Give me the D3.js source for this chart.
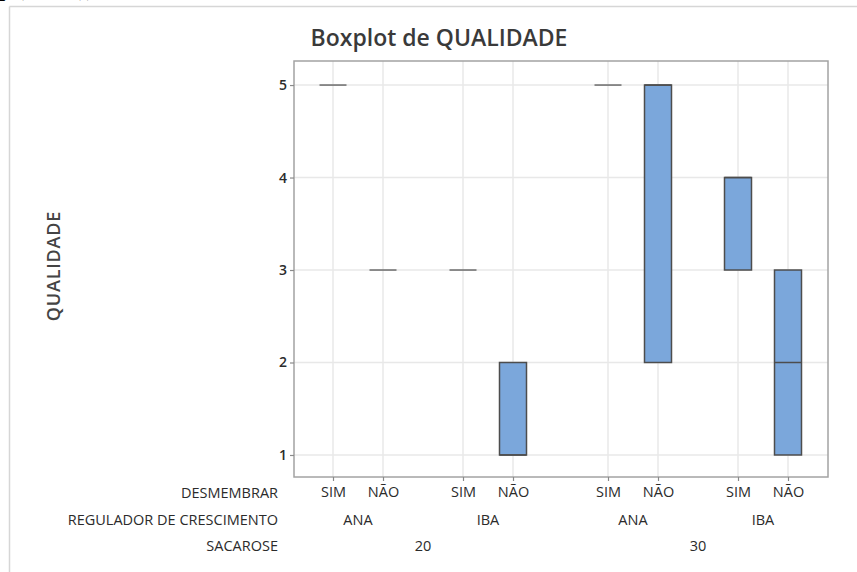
<!DOCTYPE html>
<html>
<head>
<meta charset="utf-8">
<script src="https://cdn.jsdelivr.net/npm/d3@7"></script>
<style>
  body { margin: 0; background: #fff; }
  svg { display: block; }
</style>
</head>
<body>
<svg id="chart" width="857" height="572"></svg>
<script>
// Groups, innermost factor first
const desmembrar = ["SIM", "NÃO", "SIM", "NÃO", "SIM", "NÃO", "SIM", "NÃO"];
const regulador  = ["ANA", "ANA", "IBA", "IBA", "ANA", "ANA", "IBA", "IBA"];
const sacarose   = ["20", "20", "20", "20", "30", "30", "30", "30"];

// Box summaries of QUALIDADE per group
const q1      = [5, 3, 3, 1, 5, 2, 3, 1];
const mediana = [5, 3, 3, 1, 5, 5, 4, 2];
const q3      = [5, 3, 3, 2, 5, 5, 4, 3];

const yTicks = [1, 2, 3, 4, 5];

const titulo = "Boxplot de QUALIDADE";
const yTitulo = "QUALIDADE";
const rotulosLinhas = ["DESMEMBRAR", "REGULADOR DE CRESCIMENTO", "SACAROSE"];

const FONT = "'Open Sans', 'Noto Sans', sans-serif";
const LBL = 14.5;
const svg = d3.select("#chart");

// Outer frame of the graph window
svg.append("line").attr("x1", 9.5).attr("x2", 857).attr("y1", 6.5).attr("y2", 6.5)
  .attr("stroke", "#d6d6d6").attr("stroke-width", 1.5);
svg.append("line").attr("x1", 9.5).attr("x2", 9.5).attr("y1", 6.5).attr("y2", 572)
  .attr("stroke", "#d6d6d6").attr("stroke-width", 1.5);

// Line of text running off the top edge
svg.append("text").attr("x", -1).attr("y", -4)
  .attr("font-family", "'Liberation Serif', serif").attr("font-weight", "bold")
  .attr("font-size", 22).attr("fill", "#000").text("p  (dados));");

const plot = { left: 294, right: 828, top: 61, bottom: 477 };

// Slot positions: gaps open between regulator groups and wider between sucrose levels
const slots = [];
let s = 0;
for (let i = 0; i < desmembrar.length; i++) {
  if (i > 0) {
    s += 1;
    if (regulador[i] !== regulador[i - 1] || sacarose[i] !== sacarose[i - 1]) s += 0.6;
    if (sacarose[i] !== sacarose[i - 1]) s += 0.3;
  }
  slots.push(s);
}

const x = d3.scaleLinear().domain([-0.78, slots[slots.length - 1] + 0.8]).range([plot.left, plot.right]);
const y = d3.scaleLinear().domain([0.762, 5.26]).range([plot.bottom, plot.top]);
const boxW = x(0.54) - x(0);

// Gridlines
const grid = svg.append("g");
grid.selectAll("line.h").data(yTicks).join("line")
  .attr("x1", plot.left).attr("x2", plot.right)
  .attr("y1", d => y(d)).attr("y2", d => y(d))
  .attr("stroke", "#e8e8e8").attr("stroke-width", 1.5);
grid.selectAll("line.v").data(slots).join("line")
  .attr("x1", d => x(d)).attr("x2", d => x(d))
  .attr("y1", plot.top).attr("y2", plot.bottom)
  .attr("stroke", "#e8e8e8").attr("stroke-width", 1.5);

// Boxes
const grupos = slots.map((sl, i) => ({ sl, q1: q1[i], med: mediana[i], q3: q3[i] }));
const g = svg.append("g");
grupos.forEach(d => {
  const cx = x(d.sl);
  if (d.q3 > d.q1) {
    g.append("rect")
      .attr("x", cx - boxW / 2).attr("width", boxW)
      .attr("y", y(d.q3)).attr("height", y(d.q1) - y(d.q3))
      .attr("fill", "#7ba7db").attr("stroke", "#4d4d4d").attr("stroke-width", 1.5);
  }
  g.append("line")
    .attr("x1", cx - boxW / 2).attr("x2", cx + boxW / 2)
    .attr("y1", y(d.med)).attr("y2", y(d.med))
    .attr("stroke", d.q3 > d.q1 ? "#4d4d4d" : "#6b6b6b").attr("stroke-width", 1.5);
});

// Plot frame
svg.append("rect")
  .attr("x", plot.left).attr("y", plot.top)
  .attr("width", plot.right - plot.left).attr("height", plot.bottom - plot.top)
  .attr("fill", "none").attr("stroke", "#a3a3a3").attr("stroke-width", 1.5);

// Y axis
const yAxis = svg.append("g").attr("transform", `translate(${plot.left},0)`)
  .call(d3.axisLeft(y).tickValues(yTicks).tickSize(4).tickPadding(3).tickFormat(d3.format("d")));
yAxis.select(".domain").remove();
yAxis.selectAll(".tick line").attr("stroke", "#8a8a8a").attr("stroke-width", 1.2);
yAxis.selectAll(".tick text").attr("font-family", FONT).attr("font-size", 14)
  .attr("font-weight", 600).attr("fill", "#2b2b2b");

// X axis (innermost factor)
const xAxis = svg.append("g").attr("transform", `translate(0,${plot.bottom})`)
  .call(d3.axisBottom(x).tickValues(slots).tickSize(4).tickPadding(6).tickFormat((d, i) => desmembrar[i]));
xAxis.select(".domain").remove();
xAxis.selectAll(".tick line").attr("stroke", "#8a8a8a").attr("stroke-width", 1.2);
xAxis.selectAll(".tick text").attr("font-family", FONT).attr("font-size", LBL)
  .attr("fill", "#2b2b2b");

// Regulator and sucrose group labels
const regGrupos = d3.groups(slots.map((sl, i) => ({ sl, k: sacarose[i] + regulador[i], r: regulador[i] })), d => d.k);
svg.append("g").selectAll("text").data(regGrupos).join("text")
  .attr("x", d => x(d3.mean(d[1], e => e.sl)))
  .attr("y", 525).attr("text-anchor", "middle")
  .attr("font-family", FONT).attr("font-size", LBL).attr("fill", "#2b2b2b")
  .text(d => d[1][0].r);

const sacGrupos = d3.groups(slots.map((sl, i) => ({ sl, k: sacarose[i] })), d => d.k);
svg.append("g").selectAll("text").data(sacGrupos).join("text")
  .attr("x", d => x(d3.mean(d[1], e => e.sl)))
  .attr("y", 551).attr("text-anchor", "middle")
  .attr("font-family", FONT).attr("font-size", LBL).attr("fill", "#2b2b2b")
  .text(d => d[0]);

// Factor names
svg.append("g").selectAll("text").data(rotulosLinhas).join("text")
  .attr("x", 278).attr("y", (d, i) => 498 + i * 26.5).attr("text-anchor", "end")
  .attr("font-family", FONT).attr("font-size", LBL).attr("fill", "#2b2b2b")
  .text(d => d);

// Titles
svg.append("text").attr("x", 439).attr("y", 46).attr("text-anchor", "middle")
  .attr("font-family", FONT).attr("font-size", 23).attr("font-weight", 600).attr("fill", "#3a3a3a")
  .text(titulo);

svg.append("text").attr("transform", "translate(60,266) rotate(-90)").attr("text-anchor", "middle")
  .attr("font-family", FONT).attr("font-size", 18).attr("font-weight", 600)
  .attr("letter-spacing", 0.8).attr("fill", "#444")
  .text(yTitulo);
</script>
</body>
</html>
